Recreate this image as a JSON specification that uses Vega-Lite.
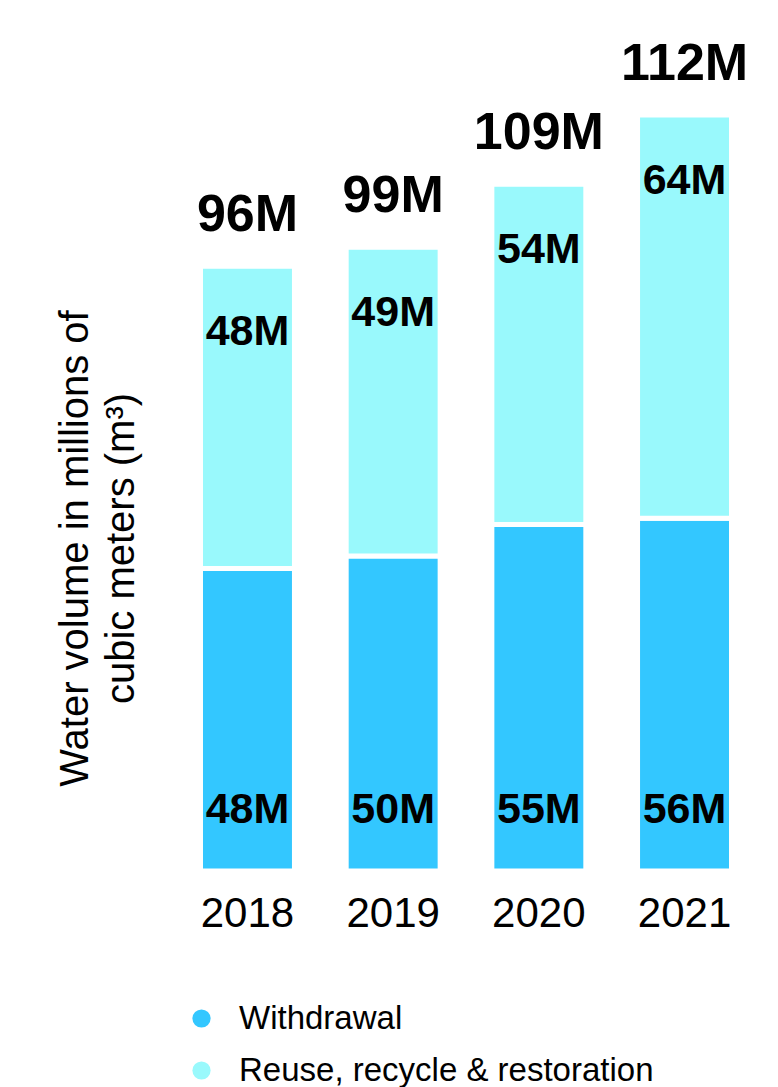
{
  "$schema": "https://vega.github.io/schema/vega-lite/v6.json",
  "width": 582,
  "height": 756,
  "autosize": "none",
  "padding": {"left": 175, "top": 115, "right": 21, "bottom": 216},
  "background": "white",
  "config": {"view": {"stroke": null}, "font": "Liberation Sans"},
  "data": {"values": [
    {"year": "2018", "series": "Withdrawal", "value": 48, "label": "48M", "total": "96M"},
    {"year": "2018", "series": "Reuse, recycle & restoration", "value": 48, "label": "48M", "total": "96M"},
    {"year": "2019", "series": "Withdrawal", "value": 50, "label": "50M", "total": "99M"},
    {"year": "2019", "series": "Reuse, recycle & restoration", "value": 49, "label": "49M", "total": "99M"},
    {"year": "2020", "series": "Withdrawal", "value": 55, "label": "55M", "total": "109M"},
    {"year": "2020", "series": "Reuse, recycle & restoration", "value": 54, "label": "54M", "total": "109M"},
    {"year": "2021", "series": "Withdrawal", "value": 56, "label": "56M", "total": "112M"},
    {"year": "2021", "series": "Reuse, recycle & restoration", "value": 64, "label": "64M", "total": "112M"}
  ]},
  "transform": [
    {"stack": "value", "groupby": ["year"], "sort": [{"field": "series", "order": "descending"}], "as": ["v0", "v1"]}
  ],
  "encoding": {
    "x": {
      "field": "year", "type": "nominal",
      "scale": {"paddingInner": 0.355, "paddingOuter": 0.175},
      "axis": {"title": null, "labelAngle": 0, "labelFontSize": 42, "labelColor": "black", "ticks": false, "domain": false, "labelPadding": 22}
    }
  },
  "layer": [
    {
      "mark": {"type": "bar", "stroke": "white", "strokeWidth": 5},
      "encoding": {
        "y": {
          "field": "v0", "type": "quantitative",
          "scale": {"domain": [0, 120], "nice": false},
          "axis": {
            "title": ["Water volume in millions of", "cubic meters (m³)"],
            "titleFontSize": 40, "titleFontWeight": "normal", "titleColor": "black",
            "titleLineHeight": 46, "titleAngle": -90, "titleAlign": "center", "titleBaseline": "alphabetic",
            "titleX": -88, "titleY": 433,
            "labels": false, "ticks": false, "domain": false, "grid": false
          }
        },
        "y2": {"field": "v1"},
        "color": {
          "field": "series", "type": "nominal",
          "scale": {"domain": ["Withdrawal", "Reuse, recycle & restoration"], "range": ["#33c7ff", "#99f9fc"]},
          "legend": {
            "orient": "none", "legendX": 10, "legendY": 887, "title": null, "padding": 0,
            "symbolType": "circle", "symbolSize": 330, "symbolStrokeWidth": 0,
            "labelFontSize": 33, "labelColor": "black", "labelOffset": 21, "rowPadding": 18, "labelLimit": 600
          }
        }
      }
    },
    {
      "transform": [{"filter": "datum.series === 'Withdrawal'"}],
      "mark": {"type": "text", "fontSize": 43, "fontWeight": "bold", "baseline": "middle", "dy": -61, "color": "black"},
      "encoding": {"y": {"field": "v0", "type": "quantitative"}, "text": {"field": "label"}}
    },
    {
      "transform": [{"filter": "datum.series !== 'Withdrawal'"}],
      "mark": {"type": "text", "fontSize": 43, "fontWeight": "bold", "baseline": "middle", "dy": 66, "color": "black"},
      "encoding": {"y": {"field": "v1", "type": "quantitative"}, "text": {"field": "label"}}
    },
    {
      "transform": [{"filter": "datum.series !== 'Withdrawal'"}],
      "mark": {"type": "text", "fontSize": 52, "fontWeight": "bold", "baseline": "middle", "dy": -51, "color": "black"},
      "encoding": {"y": {"field": "v1", "type": "quantitative"}, "text": {"field": "total"}}
    }
  ]
}
